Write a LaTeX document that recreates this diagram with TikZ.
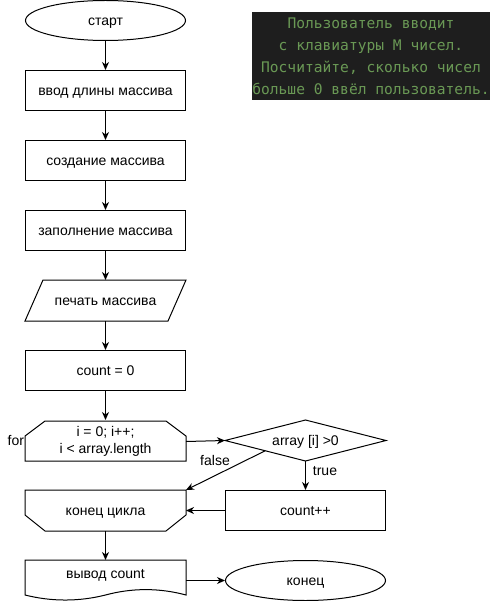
\documentclass[tikz,border=0pt]{standalone}
\usepackage{fontspec}
\setmainfont{Liberation Sans}
\newfontfamily\codefont{DejaVu Sans Mono}
\usetikzlibrary{arrows.meta,calc,shapes.geometric}
\definecolor{codebg}{HTML}{1E1E1E}
\definecolor{codefg}{HTML}{6A9955}
\begin{document}
\begin{tikzpicture}[x=1pt,y=-1pt,line width=1pt,
  every node/.style={font=\fontsize{14}{17}\selectfont, inner sep=0pt},
  one/.style={text height=11pt, text depth=1pt},
  box/.style={draw, rectangle, minimum width=160pt, minimum height=40pt, one},
  frame/.style={rectangle, minimum width=160pt, minimum height=40pt},
  oval/.style={draw, ellipse, minimum width=160pt, minimum height=40pt, one},
  arr/.style={-{Stealth[length=8pt,width=7pt,inset=2.5pt]}}]
\useasboundingbox (0,0) rectangle (496,601);

% description
\node[fill=codebg, minimum width=238pt, minimum height=88pt, text=codefg, align=center,
      font=\codefont\fontsize{14.6}{22}\selectfont] (desc) at (371,56)
  {Пользователь вводит\\с клавиатуры M чисел.\\Посчитайте, сколько чисел\\больше 0 ввёл пользователь.};

% nodes
\node[oval] (start) at (105.5,20.5) {старт};
\node[box] (len) at (105.5,90.5) {ввод длины массива};
\node[box] (make) at (105.5,160.5) {создание массива};
\node[box] (fill) at (105.5,230.5) {заполнение массива};
\node[frame, one] (print) at (105.5,300.5) {печать массива};
\node[box] (cnt) at (105.5,370.5) {count = 0};
\node[frame, align=center, text height=27pt, text depth=2pt] (for) at (105.5,441) {i = 0; i++;\\i < array.length};
\node[frame, one] (cond) at (305.5,440.5) {array [i] >0};
\node[box] (inc) at (305.5,510.5) {count++};
\node[frame, one] (lend) at (105.5,510.5) {конец цикла};
\node[frame] (out) at (105.5,580.5) {};
\node[one] (outtxt) at (105.5,573) {вывод count};
\node[oval] (end) at (305.5,580.5) {конец};

% custom outlines
\draw (print.south west) -- ($(print.north west)+(18,0)$) -- (print.north east)
      -- ($(print.south east)+(-18,0)$) -- cycle;
\draw ([yshift=0.5pt]for.south west) -- ($(for.north west)+(0,15.5)$) -- ($(for.north west)+(20,0.5)$)
      -- ($(for.north east)+(-20,0.5)$) -- ($(for.north east)+(0,15.5)$) -- ([yshift=0.5pt]for.south east) -- cycle;
\draw (cond.west) -- (cond.north) -- (cond.east) -- (cond.south) -- cycle;
\draw (lend.north west) -- (lend.north east) -- ($(lend.south east)+(0,-16)$)
      -- ($(lend.south east)+(-20,0)$) -- ($(lend.south west)+(20,0)$)
      -- ($(lend.south west)+(0,-16)$) -- cycle;
\draw (out.north west) -- (out.north east) -- ($(out.south east)+(0,-6)$)
      .. controls ($(out.south east)+(-26.67,-13.2)$) and ($(out.south)+(26.67,-13.2)$) .. ($(out.south)+(0,-6)$)
      .. controls ($(out.south)+(-26.67,0.7)$) and ($(out.south west)+(26.67,0.7)$) .. ($(out.south west)+(0,-6)$)
      -- cycle;

% connectors
\draw[arr] (start) -- (len);
\draw[arr] (len) -- (make);
\draw[arr] (make) -- (fill);
\draw[arr] (fill) -- (print);
\draw[arr] (print) -- (cnt);
\draw[arr] (cnt) -- ([yshift=0.5pt]for.north);
\draw[arr] ([yshift=-0.5pt]for.east) -- (cond.west);
\draw[arr] (cond) -- (inc);
\draw[arr] ($(cond.west)!0.5!(cond.south)$) -- (lend.north east);
\draw[arr] (inc) -- (lend);
\draw[arr] (lend) -- (out);
\draw[arr] (out) -- (end);

% labels
\node[one] (lfalse) at (215,460) {false};
\node[one] (ltrue) at (325,470) {true};
\node[one, anchor=east] (lfor) at ([xshift=-0.5pt,yshift=1pt]for.west) {for};
\end{tikzpicture}
\end{document}
